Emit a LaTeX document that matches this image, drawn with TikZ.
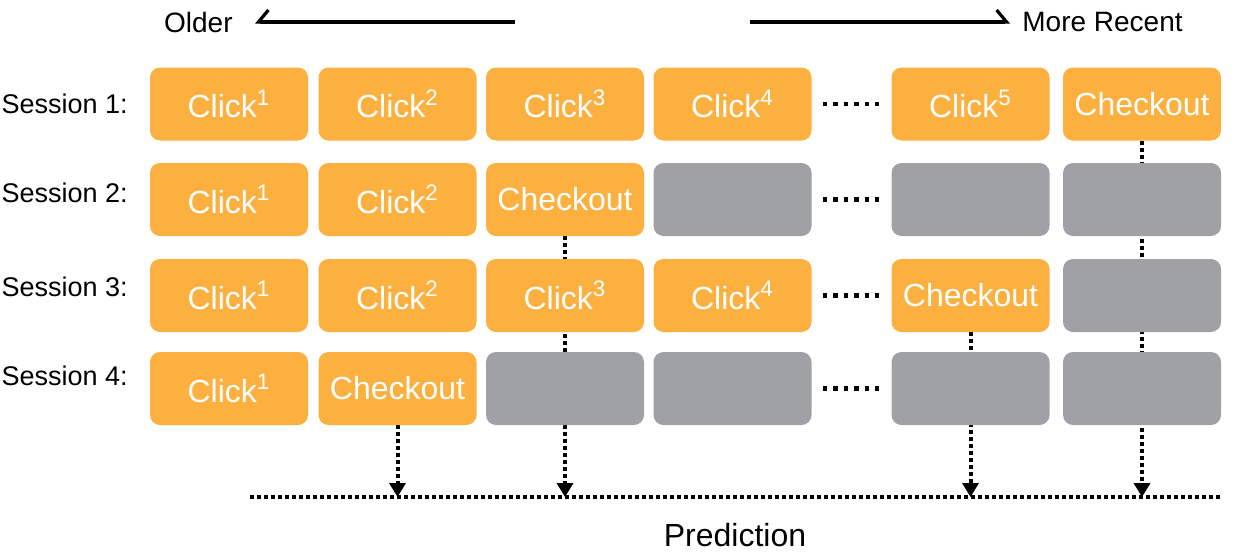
\documentclass[tikz,border=0pt]{standalone}
\usepackage{fontspec}
\setmainfont{Liberation Sans}
\usetikzlibrary{arrows.meta,backgrounds}

\definecolor{clickorange}{HTML}{FBB040}
\definecolor{emptygray}{HTML}{A0A1A4}

\tikzset{
  event/.style={rounded corners=5pt, minimum width=79pt, minimum height=36.5pt,
    inner sep=0pt, text=white, font=\fontsize{16}{16}\selectfont},
  click/.style={event, fill=clickorange},
  empty/.style={event, fill=emptygray},
  lbl/.style={inner sep=0pt, font=\fontsize{13.5}{14}\selectfont},
  gapdots/.style={line width=2.2pt, dash pattern=on 2.2pt off 3pt},
  flow/.style={line width=2pt, dash pattern=on 2pt off 1.5pt},
  flowarrow/.style={flow, -{Triangle[width=8pt,length=7pt]}},
  timeline/.style={line width=1.6pt},
}

\begin{document}
\begin{tikzpicture}[x=0.5pt,y=-0.5pt]
  \useasboundingbox (0,0) rectangle (1238,558);

  % time direction
  \node[lbl, font=\fontsize{14}{14}\selectfont, anchor=east] (older) at (233,22) {Older};
  \node[lbl, font=\fontsize{14}{14}\selectfont, anchor=west] (recent) at (1022,22) {More Recent};
  \coordinate (olderstart) at (515,22);
  \coordinate (recentstart) at (750,22);
  \draw[timeline, -{Straight Barb[harpoon,swap,length=5pt,width=12pt]}] (olderstart) -- ([xshift=11pt]older.east);
  \draw[timeline, -{Straight Barb[harpoon,length=5pt,width=12pt]}] (recentstart) -- ([xshift=-6pt]recent.west);

  % sessions
  \node[lbl, anchor=east] (sess1) at (128,104) {Session 1:};
  \node[lbl, anchor=east] (sess2) at (128,193) {Session 2:};
  \node[lbl, anchor=east] (sess3) at (128,287) {Session 3:};
  \node[lbl, anchor=east] (sess4) at (128,376) {Session 4:};

  \node[click] (s1c1) at (229,104) {Click\textsuperscript{1}};
  \node[click] (s1c2) at (397.5,104) {Click\textsuperscript{2}};
  \node[click] (s1c3) at (565,104) {Click\textsuperscript{3}};
  \node[click] (s1c4) at (732.5,104) {Click\textsuperscript{4}};
  \node[click] (s1c5) at (970.5,104) {Click\textsuperscript{5}};
  \node[click] (s1c6) at (1142,104) {Checkout};

  \node[click] (s2c1) at (229,199.5) {Click\textsuperscript{1}};
  \node[click] (s2c2) at (397.5,199.5) {Click\textsuperscript{2}};
  \node[click] (s2c3) at (565,199.5) {Checkout};
  \node[empty] (s2c4) at (732.5,199.5) {};
  \node[empty] (s2c5) at (970.5,199.5) {};
  \node[empty] (s2c6) at (1142,199.5) {};

  \node[click] (s3c1) at (229,295.5) {Click\textsuperscript{1}};
  \node[click] (s3c2) at (397.5,295.5) {Click\textsuperscript{2}};
  \node[click] (s3c3) at (565,295.5) {Click\textsuperscript{3}};
  \node[click] (s3c4) at (732.5,295.5) {Click\textsuperscript{4}};
  \node[click] (s3c5) at (970.5,295.5) {Checkout};
  \node[empty] (s3c6) at (1142,295.5) {};

  \node[click] (s4c1) at (229,388.5) {Click\textsuperscript{1}};
  \node[click] (s4c2) at (397.5,388.5) {Checkout};
  \node[empty] (s4c3) at (565,388.5) {};
  \node[empty] (s4c4) at (732.5,388.5) {};
  \node[empty] (s4c5) at (970.5,388.5) {};
  \node[empty] (s4c6) at (1142,388.5) {};

  \foreach \s in {1,2,3,4}
    \draw[gapdots] ([xshift=5.5pt]s\s c4.east) -- ([xshift=-5.5pt]s\s c5.west);

  % prediction
  \coordinate (predleft) at (250,497);
  \coordinate (predright) at (1220,497);
  \draw[flow] (predleft) -- (predright);
  \node[lbl, font=\fontsize{16}{16}\selectfont] (pred) at (735,535) {Prediction};

  \begin{scope}[on background layer]
    \draw[flowarrow] (s1c6.south) -- (s1c6 |- predleft);
    \draw[flowarrow] (s2c3.south) -- (s2c3 |- predleft);
    \draw[flowarrow] (s3c5.south) -- (s3c5 |- predleft);
    \draw[flowarrow] (s4c2.south) -- (s4c2 |- predleft);
  \end{scope}
\end{tikzpicture}
\end{document}
